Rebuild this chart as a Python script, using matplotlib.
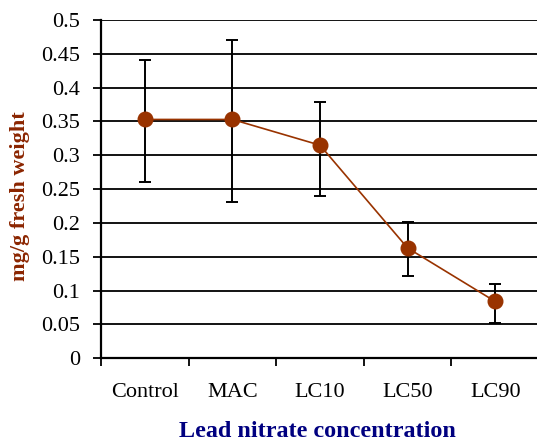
import matplotlib
matplotlib.use("Agg")
import matplotlib.pyplot as plt
import numpy as np

categories = ["Control", "MAC", "LC10", "LC50", "LC90"]
values = [0.353, 0.353, 0.315, 0.163, 0.084]
upper = [0.441, 0.470, 0.379, 0.201, 0.110]
lower = [0.261, 0.231, 0.240, 0.121, 0.052]
yticks = [0, 0.05, 0.1, 0.15, 0.2, 0.25, 0.3, 0.35, 0.4, 0.45, 0.5]
ytick_labels = ["0", "0.05", "0.1", "0.15", "0.2", "0.25", "0.3", "0.35", "0.4", "0.45", "0.5"]

plt.rcParams['font.family'] = ['Liberation Serif', 'DejaVu Serif']

fig = plt.figure(figsize=(5.37, 4.41), dpi=100)
ax = fig.add_axes([101/537, 1 - 358.3/441, 438/537, (358.3 - 20)/441])

x = np.arange(len(categories))
v = np.array(values)
yerr = np.array([v - np.array(lower), np.array(upper) - v])

ax.set_ylim(0, 0.5)
ax.set_xlim(-0.5, len(categories) - 0.5)
ax.set_yticks(yticks)
ax.set_yticklabels(ytick_labels)
ax.yaxis.grid(True, color='black', linewidth=1.3)
ax.set_axisbelow(True)

ax.errorbar(x, v, yerr=yerr, fmt='none', ecolor='black', elinewidth=1.4,
            capsize=4.5, capthick=1.4, zorder=3)
ax.plot(x, v, color='#993300', linewidth=1.2, marker='o', markersize=10.5,
        markerfacecolor='#993300', markeredgecolor='#993300', zorder=4)

ax.set_xticks(x)
ax.set_xticklabels(categories)
ax.set_xticks(np.arange(-0.5, len(categories) + 0.5, 1), minor=True)
ax.tick_params(axis='x', which='major', length=0, pad=17.5, labelsize=16)
ax.tick_params(axis='x', which='minor', length=6, width=1.3, direction='out')
ax.tick_params(axis='y', which='major', length=6, width=1.3, direction='out', pad=9, labelsize=16)

for s in ['top', 'right']:
    ax.spines[s].set_visible(False)
for s in ['left', 'bottom']:
    ax.spines[s].set_linewidth(1.6)
    ax.spines[s].set_color('black')

ax.set_ylabel("mg/g fresh weight", color='#8B2500', fontweight='bold', fontsize=16)
ax.yaxis.set_label_coords(-0.163, 0.48)
ax.set_xlabel("Lead nitrate concentration", color='#000080', fontweight='bold', fontsize=17.4)
ax.xaxis.label.set_verticalalignment('baseline')
ax.xaxis.set_label_coords(0.495, -0.233)

fig.savefig("out.png", dpi=100)
